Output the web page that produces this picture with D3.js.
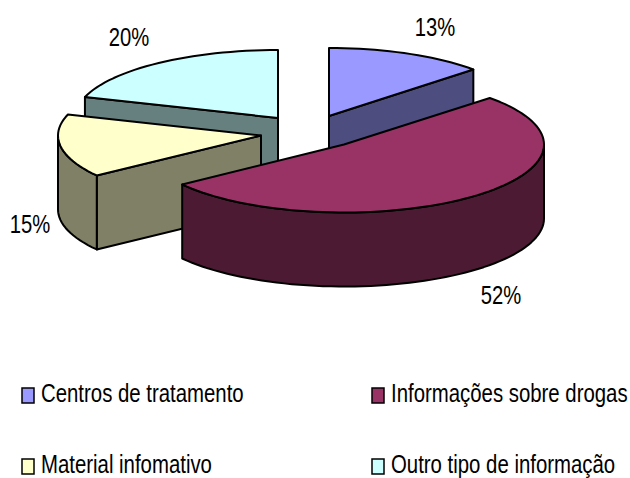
<!DOCTYPE html>
<html><head><meta charset="utf-8">
<script src="https://cdn.jsdelivr.net/npm/d3@7"></script>
<style>html,body{margin:0;padding:0;background:#fff}svg{display:block}
text{font-family:"Liberation Sans",Arial,sans-serif;fill:#000}</style>
</head><body><svg id="c" width="630" height="478"></svg>
<script>
const categories = ["Centros de tratamento","Informações sobre drogas","Material infomativo","Outro tipo de informação"];
const values = [13,52,15,20];
const topColors = ["#9999FF","#993366","#FFFFCC","#CCFFFF"];
const sideColors = ["#4D4D80","#4D1A33","#808066","#668080"];
const sliceCentres = [[329,116],[344,144.5],[261,135.5],[278,118]];
const sliceRx = [198,200,203,203];
const labelPos = [[435,36],[501,304],[30,233],[129,46]];
const legendPos = [[22,394],[372,394],[22,465],[372,465]];
const ry=68, depth=74, labelNarrow=0.81, legendNarrow=0.815, fontSize=25;

const svg=d3.select("#c");
const arcs=d3.pie().sort(null).value(d=>d)(values);
const line=d3.line();
const down=p=>[p[0],p[1]+depth];
const steps=(a0,a1)=>d3.range(0,1.0001,1/Math.max(2,Math.ceil(Math.abs(a1-a0)/0.04))).map(t=>a0+(a1-a0)*t);
function poly(pts,fill){
  return svg.append("path").attr("d",line(pts)+"Z").attr("fill",fill)
    .attr("stroke","#000").attr("stroke-width",2).attr("stroke-linejoin","round");
}
[3,0,2,1].forEach(i=>{
  const d=arcs[i],c=sliceCentres[i],s=d.startAngle,e=d.endAngle,side=sideColors[i];
  const pt=a=>[c[0]+sliceRx[i]*Math.sin(a),c[1]-ry*Math.cos(a)];
  const face=a=>poly([c,pt(a),down(pt(a)),down(c)],side);
  // a cut face shows only when it turns toward the viewer
  if(Math.sin(e)>0.01) face(e);
  if(Math.sin(s)<-0.01) face(s);
  const a0=Math.max(s,Math.PI/2), a1=Math.min(e,3*Math.PI/2);
  if(a1>a0){
    const rim=steps(a0,a1).map(pt);
    poly(rim.concat(rim.slice().reverse().map(down)),side);
  }
  poly([c].concat(steps(s,e).map(pt)),topColors[i]);
});

svg.selectAll("text.lab").data(values).join("text").attr("class","lab")
  .attr("transform",(d,i)=>`translate(${labelPos[i][0]},${labelPos[i][1]}) scale(${labelNarrow},1)`)
  .attr("text-anchor","middle").attr("font-size",fontSize).text(d=>d+"%");

const lg=svg.selectAll("g.lg").data(categories).join("g").attr("class","lg")
  .attr("transform",(d,i)=>`translate(${legendPos[i][0]},${legendPos[i][1]})`);
lg.append("rect").attr("x",0).attr("y",-6).attr("width",12).attr("height",15)
  .attr("fill",(d,i)=>topColors[i]).attr("stroke","#000").attr("stroke-width",1.5);
lg.append("text").attr("transform",`translate(19,8) scale(${legendNarrow},1)`)
  .attr("font-size",fontSize).text(d=>d);
</script></body></html>
